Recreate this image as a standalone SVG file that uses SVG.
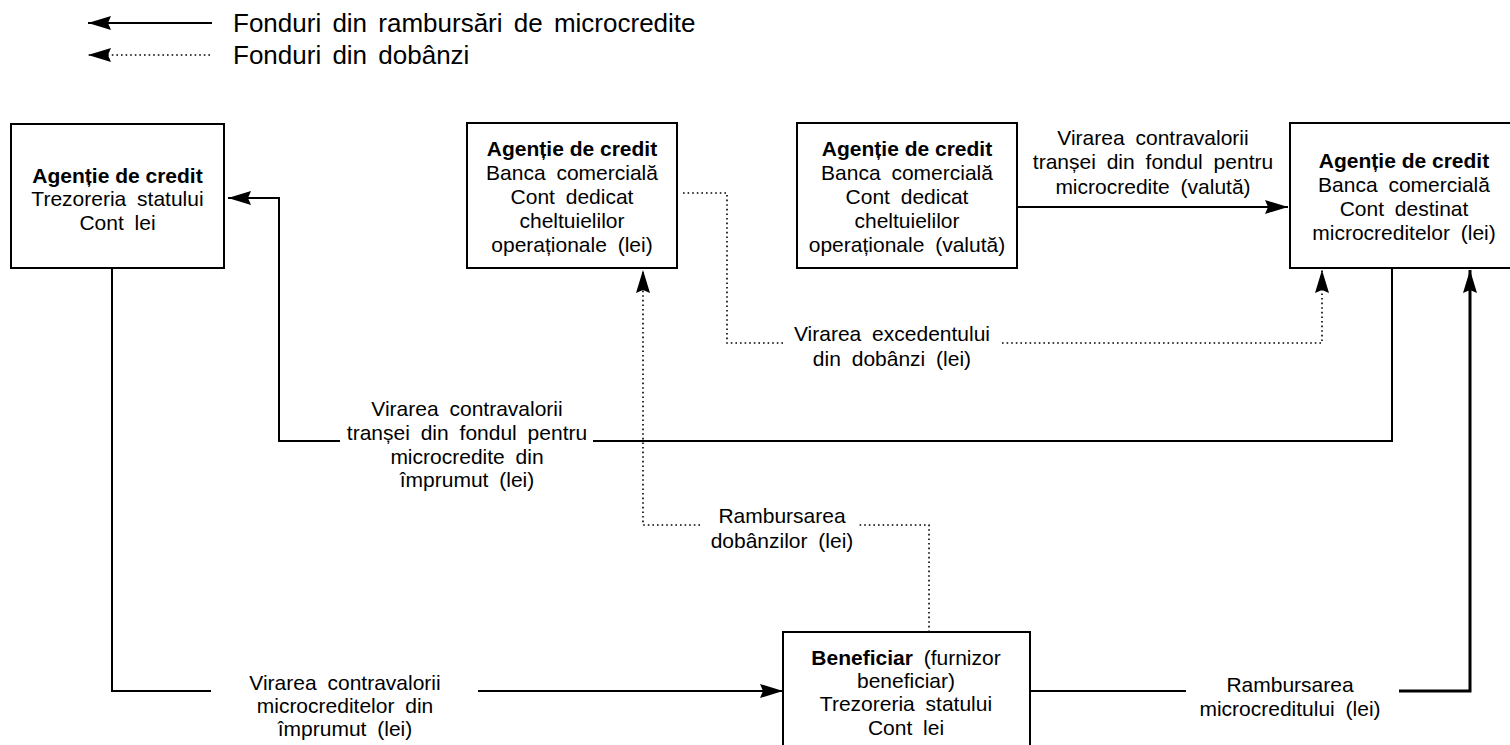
<svg xmlns="http://www.w3.org/2000/svg" width="1510" height="745" viewBox="0 0 1510 745">
<defs>
<marker id="ah" viewBox="0 0 23 14" refX="23" refY="7" markerWidth="23" markerHeight="14" markerUnits="userSpaceOnUse" orient="auto">
<path d="M0,0 L23,7 L0,14 L3,7 z" fill="#000" stroke="none"/>
</marker>
<style>
text{font-family:"Liberation Sans",Arial,Helvetica,sans-serif;font-size:21px;fill:#000;text-anchor:middle;word-spacing:5px}
.b{font-weight:bold;word-spacing:0}
.lg{font-size:26px;text-anchor:start;word-spacing:4px}
.box{fill:#fff;stroke:#000;stroke-width:2}
.s{fill:none;stroke:#000;stroke-width:2}
.t{fill:none;stroke:#000;stroke-width:3}
.d{fill:none;stroke:#000;stroke-width:1.6;stroke-dasharray:1.6 3}
</style>
</defs>
<rect width="1510" height="745" fill="#fff"/>

<g id="legend">
<path class="s" d="M212 23 H88" marker-end="url(#ah)"/>
<path class="d" d="M210 55 H88" marker-end="url(#ah)"/>
<text class="lg" x="233" y="32">Fonduri din rambursări de microcredite</text>
<text class="lg" x="233" y="64">Fonduri din dobânzi</text>
</g>

<g id="connectors">
<path class="s" d="M1392 268 V441 H593"/>
<path class="s" d="M340 441 H279 V198 H228" marker-end="url(#ah)"/>
<path class="s" d="M112 268 V691 H211"/>
<path class="s" d="M478 691 H783" marker-end="url(#ah)"/>
<path class="s" d="M1030 691 H1186"/>
<path class="t" d="M1399 691 H1470 V270" marker-end="url(#ah)"/>
<path class="s" d="M1017 207 H1288" marker-end="url(#ah)"/>
<path class="d" d="M929 632 V525 H857"/>
<path class="d" d="M700 525 H643 V270" marker-end="url(#ah)"/>
<path class="d" d="M683 193 H727 V343 H783"/>
<path class="d" d="M1002 343 H1322 V270" marker-end="url(#ah)"/>
<text x="1153" y="144.5">Virarea contravalorii</text>
<text x="1153" y="169">tranșei din fondul pentru</text>
<text x="1153" y="193.5">microcredite (valută)</text>
<text x="892" y="340.5">Virarea excedentului</text>
<text x="892" y="365.5">din dobânzi (lei)</text>
<text x="467" y="415.5">Virarea contravalorii</text>
<text x="467" y="439.5">tranșei din fondul pentru</text>
<text x="467" y="463.5">microcredite din</text>
<text x="467" y="487">împrumut (lei)</text>
<text x="782" y="522.5">Rambursarea</text>
<text x="782" y="547.5">dobânzilor (lei)</text>
<text x="345" y="689.5">Virarea contravalorii</text>
<text x="345" y="712.5">microcreditelor din</text>
<text x="345" y="735.5">împrumut (lei)</text>
<text x="1290" y="691.5">Rambursarea</text>
<text x="1290" y="715.5">microcreditului (lei)</text>
</g>

<g id="node-trezorerie">
<rect class="box" x="11" y="124" width="213" height="144"/>
<text class="b" x="117.5" y="182.5">Agenție de credit</text>
<text x="117.5" y="205.5">Trezoreria statului</text>
<text x="117.5" y="229.5">Cont lei</text>
</g>

<g id="node-cont-lei">
<rect class="box" x="467" y="123" width="210" height="145"/>
<text class="b" x="572" y="155.5">Agenție de credit</text>
<text x="572" y="179.5">Banca comercială</text>
<text x="572" y="203.5">Cont dedicat</text>
<text x="572" y="227.5">cheltuielilor</text>
<text x="572" y="251.5">operaționale (lei)</text>
</g>

<g id="node-cont-valuta">
<rect class="box" x="797" y="123" width="220" height="145"/>
<text class="b" x="907" y="155.5">Agenție de credit</text>
<text x="907" y="179.5">Banca comercială</text>
<text x="907" y="203.5">Cont dedicat</text>
<text x="907" y="227.5">cheltuielilor</text>
<text x="907" y="251.5">operaționale (valută)</text>
</g>

<g id="node-cont-microcredite">
<rect class="box" x="1290" y="123" width="232" height="145"/>
<text class="b" x="1404" y="167.5">Agenție de credit</text>
<text x="1404" y="191.5">Banca comercială</text>
<text x="1404" y="215.5">Cont destinat</text>
<text x="1404" y="239.5">microcreditelor (lei)</text>
</g>

<g id="node-beneficiar">
<rect class="box" x="783" y="632" width="247" height="130"/>
<text x="906" y="664.5"><tspan class="b">Beneficiar</tspan> (furnizor</text>
<text x="906" y="687.5">beneficiar)</text>
<text x="906" y="710.5">Trezoreria statului</text>
<text x="906" y="734.5">Cont lei</text>
</g>
</svg>
